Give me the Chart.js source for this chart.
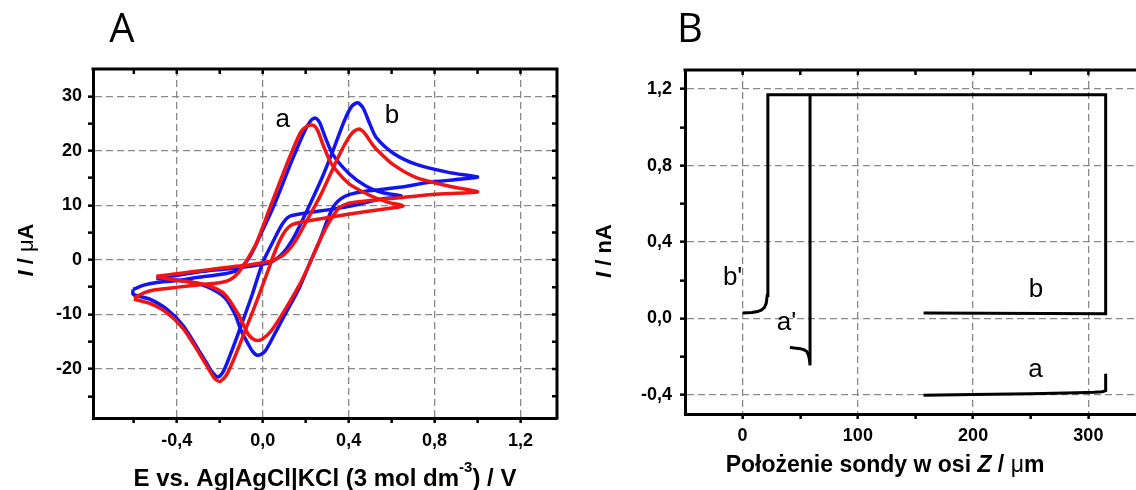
<!DOCTYPE html>
<html>
<head>
<meta charset="utf-8">
<script src="https://cdn.jsdelivr.net/npm/chart.js@4.4.1/dist/chart.umd.min.js"></script>
<style>
  html, body { margin: 0; padding: 0; background: #fff; overflow: hidden; }
  #wrap { position: relative; width: 1136px; height: 490px; overflow: hidden; }
  canvas { position: absolute; top: 0; }
  #cvA { left: 0; }
  #cvB { left: 575px; }
</style>
</head>
<body>
<div id="wrap">
  <canvas id="cvA" width="570" height="490"></canvas>
  <canvas id="cvB" width="600" height="490"></canvas>
</div>
<script>
// panel A - cyclic voltammograms, [E / V, I / uA], anodic sweep then cathodic sweep
const cvBlueA = [
  [-0.603, -5.4], [-0.55, -4.6], [-0.5, -4.2], [-0.4, -3.8], [-0.3, -3.2], [-0.2, -2.7], [-0.13, -2.1],
  [-0.09, -1.0], [-0.05, 1.3], [-0.01, 4.6], [0.055, 10.2], [0.135, 18.1], [0.195, 23.6], [0.225, 25.6],
  [0.245, 26.0], [0.265, 25.2], [0.29, 22.6], [0.327, 19.3], [0.405, 15.7], [0.482, 13.5], [0.56, 12.3],
  [0.645, 11.7],
  [0.6, 11.4], [0.544, 11.1], [0.45, 10.2], [0.327, 9.3], [0.2, 8.6], [0.126, 8.0], [0.09, 6.5],
  [0.05, 3.5], [0.0, -0.5], [-0.05, -6.5], [-0.1, -12.0], [-0.15, -17.3], [-0.185, -20.6], [-0.208, -21.5],
  [-0.235, -20.6], [-0.26, -19.0], [-0.293, -16.9], [-0.37, -12.1], [-0.448, -9.0], [-0.526, -7.2],
  [-0.603, -6.3], [-0.603, -5.4]
];
const cvRedA = [
  [-0.6, -7.0], [-0.55, -6.0], [-0.5, -5.5], [-0.394, -5.0], [-0.3, -4.6], [-0.2, -4.2], [-0.15, -3.6],
  [-0.11, -2.2], [-0.07, 0.2], [-0.03, 3.0], [0.04, 10.2], [0.118, 18.1], [0.175, 23.3], [0.205, 24.5],
  [0.234, 24.7], [0.255, 23.8], [0.28, 21.2], [0.32, 17.6], [0.4, 14.0], [0.5, 11.8], [0.58, 10.6],
  [0.653, 9.9],
  [0.6, 9.5], [0.56, 9.3], [0.405, 8.4], [0.25, 7.4], [0.14, 6.5], [0.1, 5.0], [0.06, 1.8], [0.02, -2.5],
  [-0.03, -7.8], [-0.08, -12.8], [-0.13, -17.8], [-0.17, -21.2], [-0.2, -22.3], [-0.225, -21.7],
  [-0.255, -19.8], [-0.293, -17.3], [-0.37, -12.6], [-0.45, -9.6], [-0.526, -8.0], [-0.6, -7.2]
];
const cvBlueB = [
  [-0.495, -3.3], [-0.41, -2.9], [-0.33, -2.4], [-0.254, -2.0], [-0.17, -1.7], [-0.1, -1.4], [-0.03, -1.0],
  [0.04, -0.4], [0.1, 1.5], [0.15, 4.5], [0.2, 8.5], [0.27, 14.5], [0.327, 20.0], [0.38, 25.5],
  [0.415, 28.2], [0.443, 28.8], [0.468, 27.8], [0.5, 24.8], [0.529, 22.4], [0.606, 19.6], [0.715, 17.5],
  [0.87, 16.0], [1.0, 15.2],
  [0.95, 14.9], [0.79, 14.3], [0.637, 13.3], [0.48, 12.6], [0.405, 12.0], [0.36, 11.1], [0.33, 9.8],
  [0.3, 7.2], [0.265, 3.5], [0.22, -0.5], [0.172, -5.0], [0.1, -10.3], [0.05, -14.0], [0.01, -16.8],
  [-0.022, -17.5], [-0.045, -16.9], [-0.068, -15.4], [-0.1, -13.0], [-0.13, -9.9], [-0.177, -6.9],
  [-0.254, -5.0], [-0.33, -4.1], [-0.41, -3.7], [-0.495, -3.4]
];
const cvRedB = [
  [-0.495, -3.0], [-0.41, -2.6], [-0.33, -2.2], [-0.25, -1.8], [-0.17, -1.4], [-0.1, -1.1], [-0.03, -0.7],
  [0.04, -0.2], [0.1, 1.0], [0.15, 3.3], [0.2, 6.8], [0.265, 11.5], [0.33, 17.0], [0.374, 20.6],
  [0.415, 23.2], [0.448, 24.0], [0.475, 23.2], [0.51, 21.2], [0.529, 20.3], [0.606, 17.5], [0.715, 15.1],
  [0.87, 13.5], [1.0, 12.5],
  [0.95, 12.3], [0.79, 12.0], [0.637, 11.4], [0.48, 10.8], [0.405, 10.4], [0.358, 9.6], [0.312, 7.1],
  [0.265, 3.5], [0.22, -0.6], [0.172, -4.5], [0.1, -9.4], [0.04, -13.0], [0.0, -14.5], [-0.022, -14.8],
  [-0.045, -14.5], [-0.068, -13.6], [-0.115, -9.9], [-0.177, -6.3], [-0.254, -4.7], [-0.33, -4.1],
  [-0.41, -3.7], [-0.495, -3.1]
];
const eTicks = [-0.6, -0.4, -0.2, 0, 0.2, 0.4, 0.6, 0.8, 1.0, 1.2];
const eLabels = [-0.4, 0, 0.4, 0.8, 1.2];
const iTicks = [-25, -20, -15, -10, -5, 0, 5, 10, 15, 20, 25, 30];
const iLabels = [-20, -10, 0, 10, 20, 30];

// panel B - probe current vs. position on Z axis, [Z / um, I / nA]
const probeB = [
  [0, 0.028], [8, 0.031], [13, 0.036], [16.5, 0.045], [19, 0.058], [20.5, 0.08], [21.3, 0.12],
  [21.8, 0.3], [22, 1.17], [315, 1.17], [315, 0.025], [157, 0.028]
];
const probeA1 = [
  [41, -0.152], [45, -0.155], [50, -0.158], [53, -0.163], [55.5, -0.172], [57, -0.19], [58, -0.215],
  [58.5, -0.245], [58.5, 1.17]
];
const probeA = [
  [157, -0.402], [200, -0.398], [250, -0.394], [290, -0.389], [305, -0.386], [312, -0.383],
  [315, -0.378], [315, -0.29]
];
const zTicks = [0, 50, 100, 150, 200, 250, 300];
const zLabels = [0, 100, 200, 300];
const nTicks = [-0.4, -0.2, 0, 0.2, 0.4, 0.6, 0.8, 1.0, 1.2];
const nLabels = [-0.4, 0, 0.4, 0.8, 1.2];

const pts = arr => arr.map(p => ({ x: p[0], y: p[1] }));
const comma = v => v.toFixed(1).replace('.', ',');
const FONT = '"Liberation Sans", Arial, sans-serif';

// top and right frame lines with inward ticks
const frame = {
  id: 'frame',
  afterDatasetsDraw(chart) {
    const { ctx, chartArea: a, scales } = chart;
    ctx.save();
    ctx.strokeStyle = '#000';
    ctx.lineWidth = 3;
    ctx.beginPath();
    ctx.moveTo(a.left - 1.5, a.top);
    ctx.lineTo(a.right, a.top);
    ctx.lineTo(a.right, a.bottom + 1.5);
    ctx.stroke();
    ctx.lineWidth = 2.5;
    ctx.beginPath();
    scales.x.ticks.forEach(t => {
      const p = scales.x.getPixelForValue(t.value);
      ctx.moveTo(p, a.top);
      ctx.lineTo(p, a.top + 5);
    });
    scales.y.ticks.forEach(t => {
      const p = scales.y.getPixelForValue(t.value);
      ctx.moveTo(a.right, p);
      ctx.lineTo(a.right - 5, p);
    });
    ctx.stroke();
    ctx.restore();
  }
};

// titles and curve labels, drawn as text pieces (for italics and superscript)
const notes = {
  id: 'notes',
  afterDraw(chart, args, opts) {
    const { ctx, scales } = chart;
    opts.items.forEach(it => {
      let x = it.x, y = it.y;
      if (it.data) {
        x = scales.x.getPixelForValue(it.x);
        y = scales.y.getPixelForValue(it.y);
      }
      ctx.save();
      ctx.translate(x, y);
      if (it.rot) ctx.rotate(it.rot);
      ctx.fillStyle = '#000';
      ctx.textBaseline = it.base || 'alphabetic';
      let w = 0;
      it.parts.forEach(p => { ctx.font = p.f; w += ctx.measureText(p.t).width; });
      let cx = -w / 2;
      it.parts.forEach(p => {
        ctx.font = p.f;
        ctx.fillText(p.t, cx, p.dy || 0);
        cx += ctx.measureText(p.t).width;
      });
      ctx.restore();
    });
  }
};

const axisX = (min, max, tickList, labelList, fmt, h, pad) => ({
  type: 'linear',
  min: min,
  max: max,
  afterBuildTicks: s => { s.ticks = tickList.map(v => ({ value: v })); },
  afterFit: s => { s.height = h; },
  ticks: {
    autoSkip: false,
    maxRotation: 0,
    padding: pad,
    color: '#000',
    font: { family: FONT, size: 18, weight: 'bold' },
    callback: v => (labelList.includes(v) ? fmt(v) : '')
  },
  grid: {
    color: c => (c.tick && labelList.includes(c.tick.value) ? '#8a8a8a' : 'rgba(0,0,0,0)'),
    lineWidth: 1.3,
    tickColor: '#000',
    tickWidth: 2.5,
    tickLength: 5
  },
  border: { display: true, color: '#000', width: 3, dash: [7, 4] }
});

const axisY = (min, max, tickList, labelList, fmt, w, pad) => ({
  type: 'linear',
  min: min,
  max: max,
  afterBuildTicks: s => { s.ticks = tickList.map(v => ({ value: v })); },
  afterFit: s => { s.width = w; },
  ticks: {
    autoSkip: false,
    padding: pad,
    color: '#000',
    font: { family: FONT, size: 18, weight: 'bold' },
    callback: v => (labelList.includes(v) ? fmt(v) : '')
  },
  grid: {
    color: c => (c.tick && labelList.includes(c.tick.value) ? '#8a8a8a' : 'rgba(0,0,0,0)'),
    lineWidth: 1.3,
    tickColor: '#000',
    tickWidth: 2.5,
    tickLength: 5
  },
  border: { display: true, color: '#000', width: 3, dash: [7, 4] }
});

const cvLine = (data, color) => ({
  data: pts(data),
  showLine: true,
  borderColor: color,
  borderWidth: 3.5,
  pointRadius: 0,
  tension: 0.25,
  fill: false
});

const probeLine = data => ({
  data: pts(data),
  showLine: true,
  borderColor: '#000',
  borderWidth: 3,
  pointRadius: 0,
  tension: 0,
  fill: false
});

new Chart(document.getElementById('cvA'), {
  type: 'scatter',
  data: {
    datasets: [
      cvLine(cvRedA, '#f01414'),
      cvLine(cvRedB, '#f01414'),
      cvLine(cvBlueA, '#1414f0'),
      cvLine(cvBlueB, '#1414f0')
    ]
  },
  options: {
    responsive: false,
    animation: false,
    layout: { padding: { left: 0, top: 69, right: 13, bottom: 0 } },
    scales: {
      x: axisX(-0.79, 1.37, eTicks, eLabels, comma, 72, 7),
      y: axisY(-29, 35, iTicks, iLabels, v => String(v), 93, 6)
    },
    plugins: {
      legend: { display: false },
      tooltip: { enabled: false },
      notes: {
        items: [
          { x: 122, y: 31, base: 'middle', parts: [{ t: 'A', f: '40px "Open Sans", sans-serif' }] },
          { x: 27, y: 250, rot: -Math.PI / 2, base: 'middle', parts: [
            { t: 'I', f: 'italic bold 22px ' + FONT },
            { t: ' / ', f: 'bold 22px ' + FONT },
            { t: 'μ', f: '22px ' + FONT },
            { t: 'A', f: 'bold 22px ' + FONT }
          ] },
          { x: 325, y: 479, base: 'middle', parts: [
            { t: 'E vs. Ag|AgCl|KCl (3 mol dm', f: 'bold 24px ' + FONT },
            { t: '-3', f: 'bold 15px ' + FONT, dy: -11 },
            { t: ') / V', f: 'bold 24px ' + FONT }
          ] },
          { x: 0.093, y: 24.4, data: true, parts: [{ t: 'a', f: '26px ' + FONT }] },
          { x: 0.602, y: 25.1, data: true, parts: [{ t: 'b', f: '26px ' + FONT }] }
        ]
      }
    }
  },
  plugins: [frame, notes]
});

new Chart(document.getElementById('cvB'), {
  type: 'scatter',
  data: {
    datasets: [probeLine(probeB), probeLine(probeA1), probeLine(probeA)]
  },
  options: {
    responsive: false,
    animation: false,
    layout: { padding: { left: 0, top: 70, right: 29, bottom: 0 } },
    scales: {
      x: axisX(-50, 350, zTicks, zLabels, v => String(v), 76, 6),
      y: axisY(-0.5, 1.3, nTicks, nLabels, comma, 110, 8)
    },
    plugins: {
      legend: { display: false },
      tooltip: { enabled: false },
      notes: {
        items: [
          { x: 115, y: 31, base: 'middle', parts: [{ t: 'B', f: '40px "Open Sans", sans-serif' }] },
          { x: 30, y: 251, rot: -Math.PI / 2, base: 'middle', parts: [
            { t: 'I', f: 'italic bold 22px ' + FONT },
            { t: ' / nA', f: 'bold 22px ' + FONT }
          ] },
          { x: 310, y: 466, base: 'middle', parts: [
            { t: 'Położenie sondy w osi ', f: 'bold 23px ' + FONT },
            { t: 'Z', f: 'italic bold 23px ' + FONT },
            { t: ' / ', f: 'bold 23px ' + FONT },
            { t: 'μ', f: '23px ' + FONT },
            { t: 'm', f: 'bold 23px ' + FONT }
          ] },
          { x: -8.7, y: 0.176, data: true, parts: [{ t: "b'", f: '26px ' + FONT }] },
          { x: 38, y: -0.059, data: true, parts: [{ t: "a'", f: '26px ' + FONT }] },
          { x: 254.5, y: 0.114, data: true, parts: [{ t: 'b', f: '26px ' + FONT }] },
          { x: 254, y: -0.305, data: true, parts: [{ t: 'a', f: '26px ' + FONT }] }
        ]
      }
    }
  },
  plugins: [frame, notes]
});
</script>
</body>
</html>
